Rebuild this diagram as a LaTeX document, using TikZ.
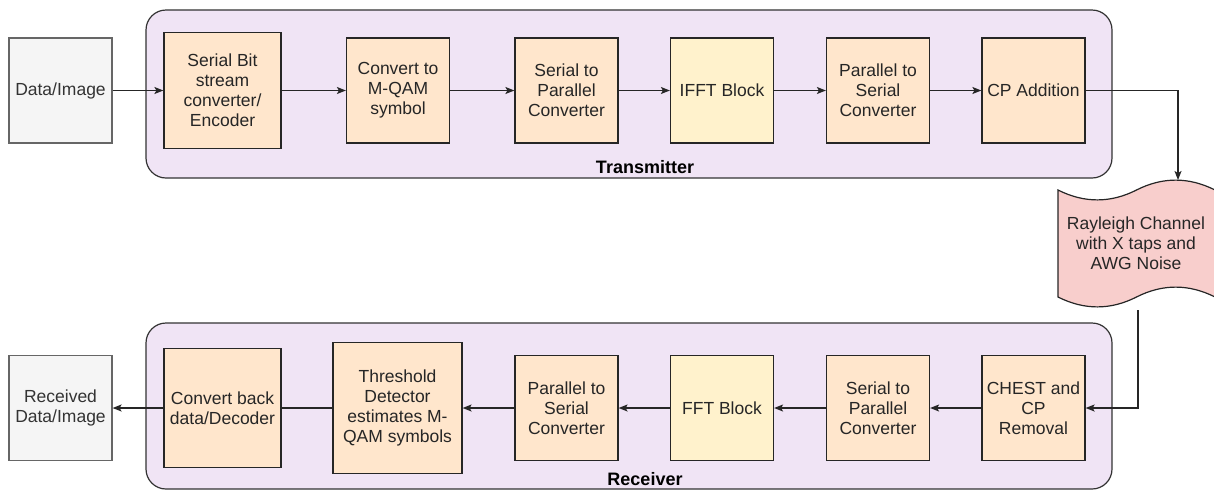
\documentclass[tikz,border=0pt]{standalone}
\usepackage{fontspec}
\setmainfont{Liberation Sans}
\usetikzlibrary{arrows.meta}
\definecolor{blockorange}{RGB}{255,230,204}
\definecolor{blockyellow}{RGB}{255,242,204}
\definecolor{groupviolet}{RGB}{240,228,245}
\definecolor{channelpink}{RGB}{248,206,204}
\definecolor{iogray}{RGB}{245,245,245}
\definecolor{iotext}{RGB}{51,51,51}
\definecolor{edgegray}{RGB}{102,102,102}

\begin{document}
\begin{tikzpicture}[x=1pt,y=-1pt,
    font=\fontsize{17.5}{20}\selectfont,
    group/.style={draw=black!80,line width=1.2pt,fill=groupviolet,rounded corners=20pt},
    blk/.style={draw=black!85,line width=1.2pt,fill=blockorange,text=black!85,align=center,
        inner sep=1pt,minimum width=103pt,minimum height=105pt},
    fftblk/.style={blk,fill=blockyellow},
    iobox/.style={blk,draw=edgegray,fill=iogray,text=iotext},
    flow/.style={line width=1.3pt,black!85,-{Stealth[length=9pt,width=7pt,inset=2pt]}},
    plain/.style={line width=1.3pt,black!85}]
    \useasboundingbox (0,0) rectangle (1214,491);

    % Transmitter / receiver groups
    \draw[group] (146,10) rectangle (1112,178);
    \draw[group] (146,323) rectangle (1112,489);
    \node[font=\fontsize{18}{20}\selectfont\bfseries] (txlabel) at (645,167) {Transmitter};
    \node[font=\fontsize{18}{20}\selectfont\bfseries] (rxlabel) at (645,479) {Receiver};

    % Transmitter chain
    \node[iobox] (data) at (60.5,90.5) {Data/Image};
    \node[blk,minimum width=117pt,minimum height=116pt] (serbit) at (222.5,90.5) {Serial Bit\\stream\\converter/\\Encoder};
    \node[blk] (qam) at (398,90.5) {Convert to\\M-QAM\\symbol};
    \node[blk] (sp) at (566.5,90.5) {Serial to\\Parallel\\Converter};
    \node[fftblk] (ifft) at (722,90.5) {IFFT Block};
    \node[blk] (ps) at (878,90.5) {Parallel to\\Serial\\Converter};
    \node[blk] (cp) at (1033.5,90.5) {CP Addition};

    % Channel (tape shape)
    \draw[draw=black!85,line width=1.2pt,fill=channelpink]
        (1058,190) .. controls (1084.2,203.2) and (1110.5,203.2) .. (1136.5,190)
        .. controls (1162.5,176.8) and (1188.8,176.8) .. (1215,190)
        -- (1215,297)
        .. controls (1188.8,283.8) and (1162.5,283.8) .. (1136.5,297)
        .. controls (1110.5,310.2) and (1084.2,310.2) .. (1058,297) -- cycle;
    \node[align=center,text=black!85] (chan) at (1136,243) {Rayleigh Channel\\with X taps and\\AWG Noise};
    \coordinate (chin) at (1178,180);
    \coordinate (chout) at (1138,310);

    % Receiver chain
    \node[iobox] (recv) at (60.5,408) {Received\\Data/Image};
    \node[blk,minimum width=117pt,minimum height=119pt] (dec) at (222.5,408) {Convert back\\data/Decoder};
    \node[blk,minimum width=129pt,minimum height=131pt] (thr) at (397.5,408) {Threshold\\Detector\\estimates M-\\QAM symbols};
    \node[blk] (ps2) at (566.5,408) {Parallel to\\Serial\\Converter};
    \node[fftblk] (fft) at (722,408) {FFT Block};
    \node[blk] (sp2) at (878,408) {Serial to\\Parallel\\Converter};
    \node[blk] (chest) at (1033.5,408) {CHEST and\\CP\\Removal};

    % Connections
    \draw[flow] (data) -- (serbit);
    \draw[flow] (serbit) -- (qam);
    \draw[flow] (qam) -- (sp);
    \draw[flow] (sp) -- (ifft);
    \draw[flow] (ifft) -- (ps);
    \draw[flow] (ps) -- (cp);
    \draw[flow] (cp.east) -| (chin);
    \draw[flow] (chout) |- (chest.east);
    \draw[flow] (chest) -- (sp2);
    \draw[flow] (sp2) -- (fft);
    \draw[flow] (fft) -- (ps2);
    \draw[flow] (ps2) -- (thr);
    \draw[plain] (thr) -- (dec);
    \draw[flow] (dec) -- (recv);
\end{tikzpicture}
\end{document}
